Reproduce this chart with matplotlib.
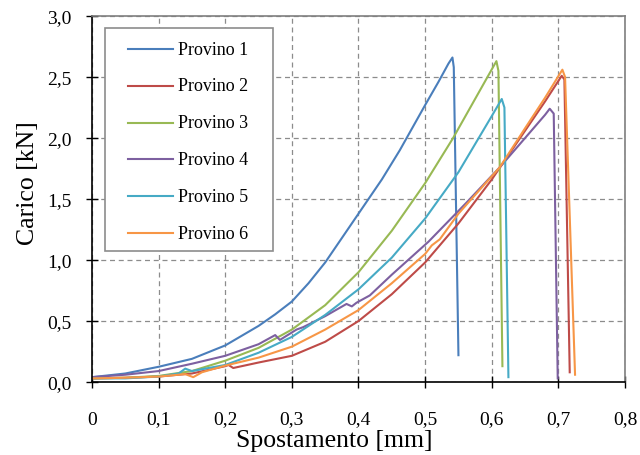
import matplotlib
matplotlib.use("Agg")
import matplotlib.pyplot as plt
from matplotlib.patches import Rectangle
from matplotlib.ticker import FuncFormatter, MultipleLocator

plt.rcParams["font.family"] = ["Liberation Serif", "DejaVu Serif"]

# dati (spostamento [mm], carico [kN])
x1 = [0, 0.05, 0.1, 0.15, 0.2, 0.25, 0.275, 0.3, 0.325, 0.35, 0.4, 0.435, 0.462, 0.5, 0.52, 0.535, 0.541, 0.543, 0.55]
y1 = [0.04, 0.07, 0.125, 0.19, 0.30, 0.46, 0.555, 0.66, 0.81, 0.98, 1.38, 1.66, 1.90, 2.27, 2.46, 2.61, 2.66, 2.58, 0.22]

x2 = [0, 0.05, 0.1, 0.15, 0.2, 0.205, 0.212, 0.25, 0.3, 0.35, 0.4, 0.45, 0.5, 0.55, 0.6, 0.65, 0.68, 0.705, 0.709, 0.717]
y2 = [0.03, 0.035, 0.045, 0.07, 0.13, 0.14, 0.115, 0.16, 0.215, 0.33, 0.50, 0.72, 0.98, 1.30, 1.66, 2.06, 2.30, 2.51, 2.48, 0.08]

x3 = [0, 0.05, 0.1, 0.15, 0.2, 0.25, 0.3, 0.35, 0.4, 0.45, 0.5, 0.542, 0.575, 0.607, 0.61, 0.616]
y3 = [0.03, 0.035, 0.05, 0.09, 0.175, 0.28, 0.43, 0.63, 0.90, 1.24, 1.63, 2.0, 2.32, 2.63, 2.55, 0.13]

x4 = [0, 0.05, 0.1, 0.15, 0.2, 0.25, 0.275, 0.282, 0.307, 0.317, 0.35, 0.382, 0.39, 0.397, 0.417, 0.45,
      0.505, 0.562, 0.612, 0.65, 0.68, 0.687, 0.693, 0.699]
y4 = [0.04, 0.06, 0.09, 0.15, 0.215, 0.31, 0.385, 0.345, 0.43, 0.45, 0.54, 0.64, 0.62, 0.65, 0.71, 0.88,
      1.15, 1.47, 1.76, 2.0, 2.19, 2.24, 2.2, 0.03]

x5 = [0, 0.05, 0.1, 0.13, 0.14, 0.15, 0.2, 0.25, 0.3, 0.35, 0.4, 0.45, 0.5, 0.55, 0.6, 0.615, 0.619, 0.625]
y5 = [0.03, 0.03, 0.045, 0.07, 0.11, 0.09, 0.14, 0.24, 0.37, 0.55, 0.76, 1.02, 1.34, 1.72, 2.18, 2.32, 2.25, 0.04]

x6 = [0, 0.05, 0.1, 0.14, 0.152, 0.165, 0.2, 0.25, 0.3, 0.35, 0.4, 0.45, 0.5, 0.51, 0.522, 0.55,
      0.612, 0.65, 0.68, 0.706, 0.71, 0.725]
y6 = [0.03, 0.035, 0.045, 0.065, 0.04, 0.08, 0.135, 0.20, 0.29, 0.43, 0.59, 0.81, 1.05, 1.12, 1.17, 1.38,
      1.76, 2.08, 2.33, 2.56, 2.50, 0.06]

labels = ["Provino 1", "Provino 2", "Provino 3", "Provino 4", "Provino 5", "Provino 6"]
colors = ["#4a7ebb", "#be4b48", "#98b954", "#7d60a0", "#46aac5", "#f79646"]
series = [(x1, y1), (x2, y2), (x3, y3), (x4, y4), (x5, y5), (x6, y6)]

fig = plt.figure(figsize=(6.4, 4.56), dpi=100)
ax = fig.add_axes([0.1437, 0.160, 0.8329, 0.8027])

for (xs, ys), col in zip(series, colors):
    ax.plot(xs, ys, color=col, lw=1.5, solid_joinstyle="round")

ax.set_xlim(0, 0.8)
ax.set_ylim(0, 3.0)
ax.xaxis.set_major_locator(MultipleLocator(0.1))
ax.yaxis.set_major_locator(MultipleLocator(0.5))
ax.xaxis.set_major_formatter(FuncFormatter(lambda v, p: "0" if abs(v) < 1e-9 else f"{v:.1f}".replace(".", ",")))
ax.yaxis.set_major_formatter(FuncFormatter(lambda v, p: f"{v:.1f}".replace(".", ",")))
ax.grid(True, color="#8c8c8c", ls=(0, (4, 3)), lw=0.9)
ax.tick_params(direction="inout", length=9, width=1, labelsize=14)
ax.tick_params(axis="y", pad=10)
ax.tick_params(axis="x", pad=16)

ax.spines["left"].set_color("black")
ax.spines["bottom"].set_color("black")
ax.spines["top"].set_color("#7f7f7f")
ax.spines["right"].set_color("#7f7f7f")
for s in ax.spines.values():
    s.set_linewidth(1.2)

ax.set_xlabel("Spostamento [mm]", fontsize=18.5)
ax.set_ylabel("Carico [kN]", fontsize=18.5)
ax.xaxis.set_label_coords(0.455, -0.128)
ax.yaxis.set_label_coords(-0.100, 0.545)

# legenda disegnata a mano (riquadro largo come nell'originale)
ax.add_patch(Rectangle((0.0244, 0.358), 0.315, 0.609, transform=ax.transAxes,
                       fc="white", ec="#8c8c8c", lw=1.2, zorder=5))
for i, (lab, col) in enumerate(zip(labels, colors)):
    yy = (383 - (50 + 36.8 * i)) / 366
    ax.plot([0.0675, 0.152], [yy, yy], color=col, lw=1.5, transform=ax.transAxes, zorder=6)
    ax.text(0.161, yy, lab, fontsize=13, va="center", ha="left", transform=ax.transAxes, zorder=6)

fig.savefig("out.png", dpi=100)
